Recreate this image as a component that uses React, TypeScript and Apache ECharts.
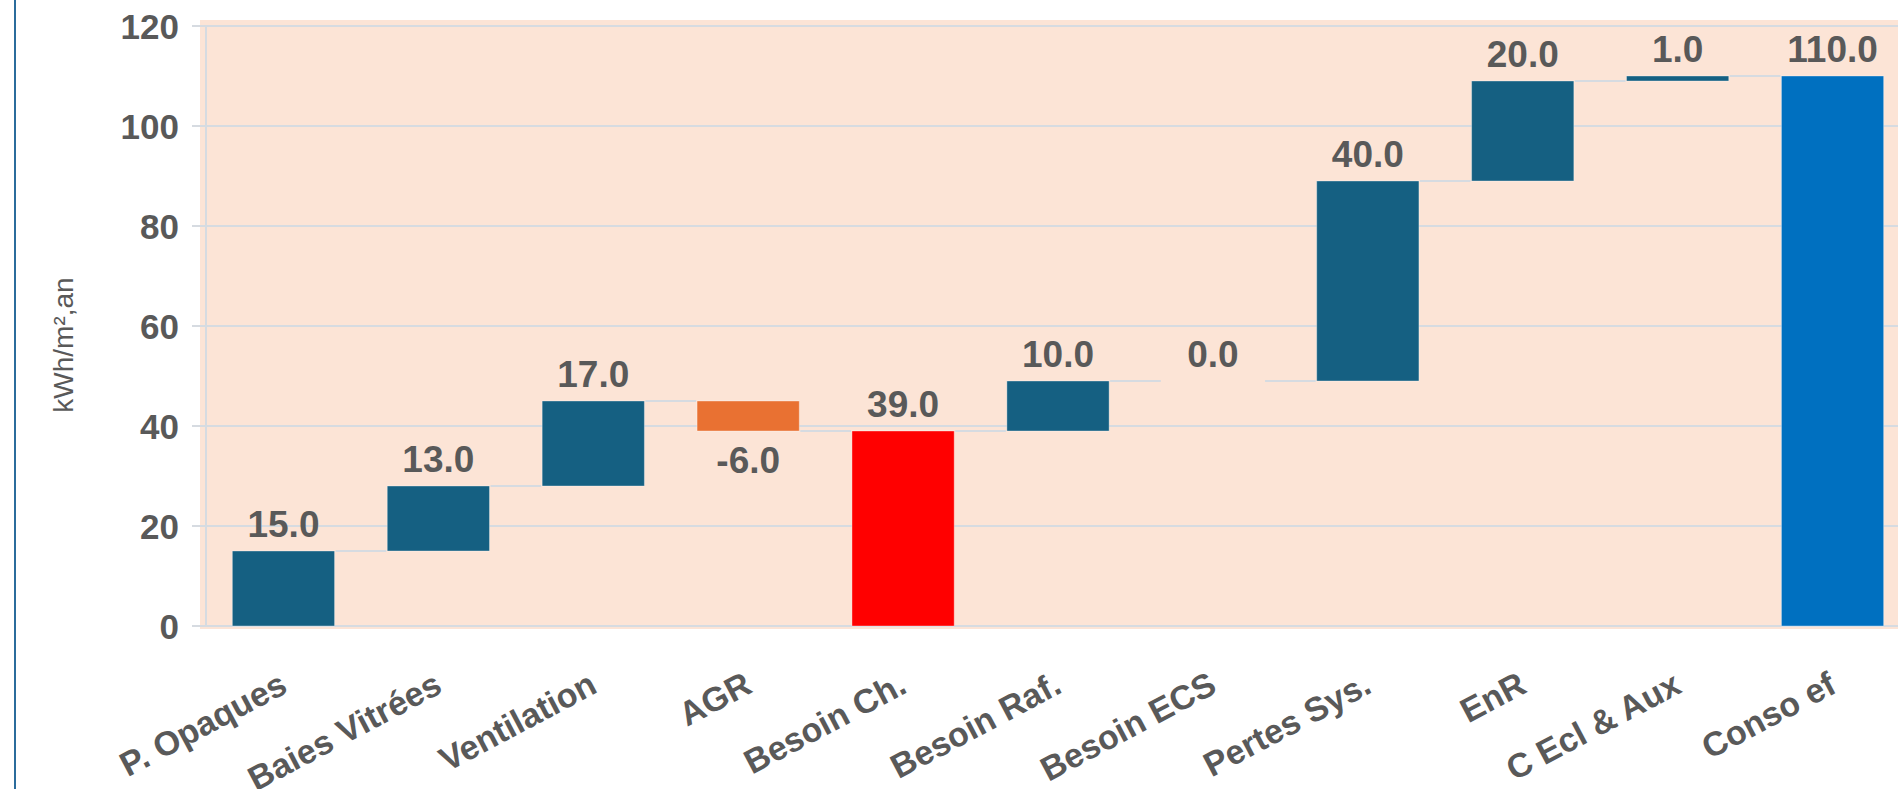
import React, { useEffect, useRef } from "react";
import * as echarts from "echarts";

const categories = [
  "P. Opaques",
  "Baies Vitrées",
  "Ventilation",
  "AGR",
  "Besoin Ch.",
  "Besoin Raf.",
  "Besoin ECS",
  "Pertes Sys.",
  "EnR",
  "C Ecl & Aux",
  "Conso ef",
];
const values = [15, 13, 17, -6, 39, 10, 0, 40, 20, 1, 110];
const kinds = [
  "delta",
  "delta",
  "delta",
  "delta",
  "subtotal",
  "delta",
  "delta",
  "delta",
  "delta",
  "delta",
  "total",
];
const yMin = 0;
const yMax = 120;
const yStep = 20;
const yName = "kWh/m²,an";

const COLORS: Record<string, string> = {
  increase: "#156082",
  decrease: "#E97132",
  subtotal: "#FF0000",
  total: "#0070C0",
};
const TEXT = "#595959";
const GRID = "#d6dbe1";
const FONT = "'Liberation Sans', Arial, sans-serif";

function buildRows() {
  let run = 0;
  return values.map((v, i) => {
    let s: number;
    let e: number;
    if (kinds[i] !== "delta") {
      s = 0;
      e = v;
      run = v;
    } else {
      s = run;
      e = run + v;
      run = e;
    }
    return [i, s, e, v];
  });
}

export default function App() {
  const ref = useRef<HTMLDivElement>(null);
  useEffect(() => {
    if (!ref.current) return;
    document.body.style.margin = "0";
    document.body.style.overflow = "hidden";
    const chart = echarts.init(ref.current, undefined, { renderer: "svg" });
    const rows = buildRows();
    const n = rows.length;
    const option: any = {
      animation: false,
      backgroundColor: "#ffffff",
      graphic: {
        elements: [
          {
            type: "rect",
            z: -100,
            silent: true,
            shape: { x: 200, y: 20, width: 1720, height: 609 },
            style: { fill: "#FCE4D6" },
          },
          {
            type: "rect",
            z: 100,
            silent: true,
            shape: { x: 14, y: 0, width: 2, height: 789 },
            style: { fill: "#2B6C9C" },
          },
          {
            type: "text",
            z: 100,
            silent: true,
            x: 63,
            y: 345,
            rotation: Math.PI / 2,
            style: {
              text: yName,
              fill: TEXT,
              fontSize: 28,
              fontFamily: FONT,
              align: "center",
              verticalAlign: "middle",
            },
          },
        ],
      },
      grid: {
        left: 206,
        right: -12,
        top: 26,
        bottom: 163,
        containLabel: false,
        outerBoundsMode: "none",
      },
      xAxis: {
        type: "category",
        data: categories,
        axisTick: { show: false },
        axisLine: { show: true, lineStyle: { color: GRID, width: 2 } },
        axisLabel: {
          interval: 0,
          rotate: 28,
          margin: 55,
          color: TEXT,
          fontSize: 34,
          fontWeight: "bold",
          fontFamily: FONT,
          hideOverlap: false,
        },
      },
      yAxis: {
        type: "value",
        min: yMin,
        max: yMax,
        interval: yStep,
        axisLine: { show: true, lineStyle: { color: GRID, width: 2 } },
        axisTick: { show: true, length: 14, lineStyle: { color: GRID, width: 2 } },
        splitLine: { show: true, lineStyle: { color: GRID, width: 2 } },
        axisLabel: {
          margin: 27,
          color: TEXT,
          fontSize: 35,
          fontWeight: "bold",
          fontFamily: FONT,
        },
      },
      series: [
        {
          type: "custom",
          data: rows,
          encode: { x: 0, y: [1, 2] },
          clip: false,
          renderItem: (params: any, api: any) => {
            const i = api.value(0);
            const s = api.value(1);
            const e = api.value(2);
            const v = api.value(3);
            const kind = kinds[i];
            const p0 = api.coord([i, s]);
            const p1 = api.coord([i, e]);
            const catW = api.size([1, 0])[0];
            const bw = catW * 0.66;
            const x = p0[0] - bw / 2;
            const top = Math.min(p0[1], p1[1]);
            const h = Math.abs(p0[1] - p1[1]);
            let color = COLORS.increase;
            if (kind === "subtotal") color = COLORS.subtotal;
            else if (kind === "total") color = COLORS.total;
            else if (v < 0) color = COLORS.decrease;
            const children: any[] = [];
            if (h > 0) {
              children.push({
                type: "rect",
                shape: { x, y: top, width: bw, height: h },
                style: { fill: color, stroke: "rgba(255,255,255,0.35)", lineWidth: 1 },
              });
            }
            if (i < n - 1) {
              children.push({
                type: "line",
                shape: { x1: x + bw + 1, y1: p1[1], x2: x + catW - 1, y2: p1[1] },
                style: { stroke: GRID, lineWidth: 2 },
              });
            }
            const neg = v < 0;
            children.push({
              type: "text",
              x: p0[0],
              y: neg ? top + h + 11 : top - 8,
              style: {
                text: v.toFixed(1),
                fill: TEXT,
                fontSize: 37,
                fontWeight: "bold",
                fontFamily: FONT,
                align: "center",
                verticalAlign: neg ? "top" : "bottom",
              },
            });
            return { type: "group", children };
          },
        },
      ],
    };
    chart.setOption(option);
    return () => chart.dispose();
  }, []);
  return (
    <div
      ref={ref}
      style={{ position: "fixed", left: 0, top: 0, width: 1898, height: 789 }}
    />
  );
}
